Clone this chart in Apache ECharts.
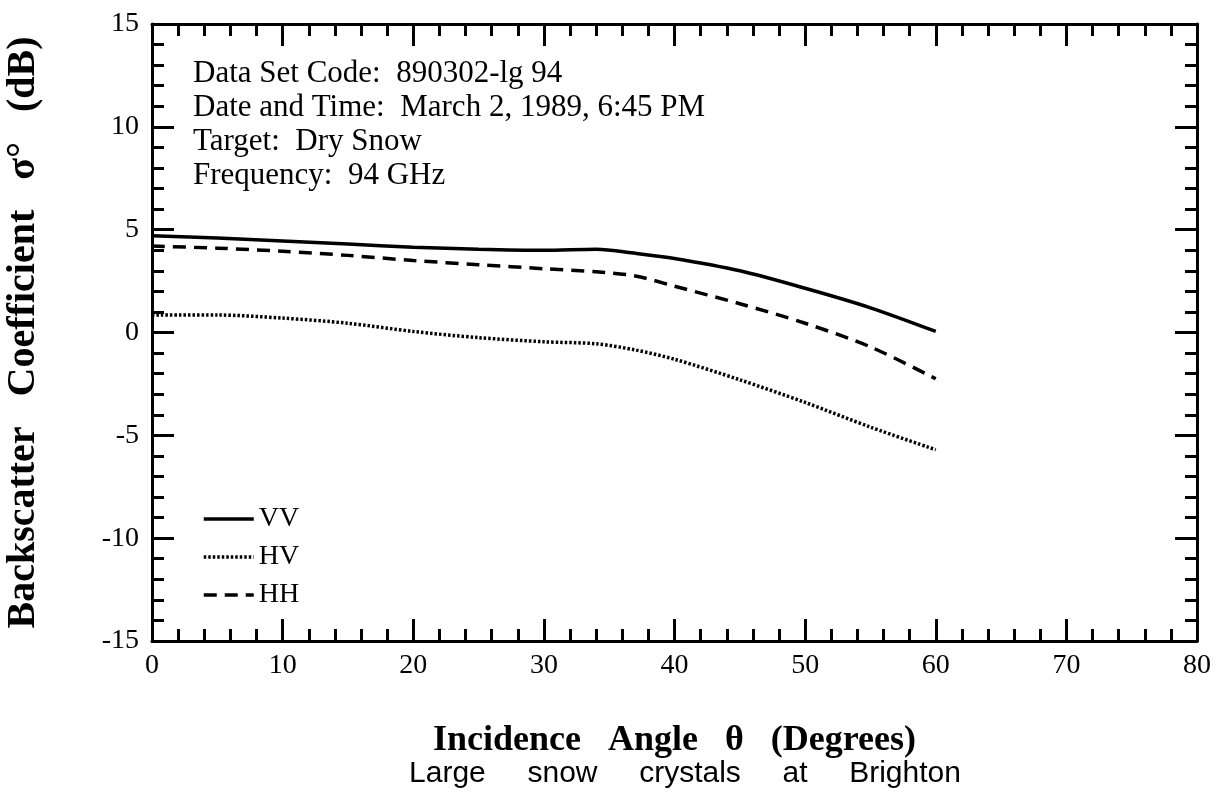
<!DOCTYPE html>
<html>
<head>
<meta charset="utf-8">
<script src="https://cdn.jsdelivr.net/npm/echarts@6/dist/echarts.min.js"></script>
<style>
html, body { margin: 0; padding: 0; background: #fff; }
#chart { width: 1222px; height: 803px; }
</style>
</head>
<body>
<div id="chart"></div>
<script>
// incidence angle (deg) and backscatter (dB)
const angles = [0, 5, 10, 15, 20, 25, 30, 34, 37, 40, 45, 50, 55, 60];
const vv = [4.7, 4.6, 4.45, 4.3, 4.15, 4.05, 4.0, 4.05, 3.85, 3.6, 3.0, 2.15, 1.2, 0.05];
const hv = [0.85, 0.85, 0.7, 0.45, 0.05, -0.25, -0.45, -0.55, -0.85, -1.3, -2.3, -3.4, -4.6, -5.7];
const hh = [4.2, 4.1, 3.95, 3.75, 3.5, 3.3, 3.1, 2.95, 2.75, 2.25, 1.4, 0.45, -0.7, -2.25];
const notes = [
    'Data Set Code:  890302-lg 94',
    'Date and Time:  March 2, 1989, 6:45 PM',
    'Target:  Dry Snow',
    'Frequency:  94 GHz'
];

const serif = '"Liberation Serif", "DejaVu Serif", serif';
const pair = (ys) => angles.map((a, i) => [a, ys[i]]);

const chart = echarts.init(document.getElementById('chart'));

const frameAxis = {
    axisLine: { show: true, onZero: false, lineStyle: { color: '#000', width: 3 } },
    axisTick: { show: true, inside: true, length: 22, lineStyle: { color: '#000', width: 3 } },
    minorTick: { show: true, splitNumber: 5, length: 12, lineStyle: { color: '#000', width: 3 } },
    splitLine: { show: false },
    minorSplitLine: { show: false },
};

const option = {
    animation: false,
    backgroundColor: '#fff',
    grid: { left: 152, right: 25, top: 24, bottom: 162, outerBoundsMode: 'none' },
    xAxis: [
        {
            ...frameAxis,
            type: 'value', min: 0, max: 80, interval: 10, position: 'bottom',
            axisLabel: { fontFamily: serif, fontSize: 28, color: '#000', margin: 11 },
            name: 'Incidence   Angle   θ   (Degrees)',
            nameLocation: 'middle', nameGap: 82,
            nameTextStyle: { fontFamily: serif, fontWeight: 'bold', fontSize: 36, color: '#000' },
        },
        {
            ...frameAxis,
            type: 'value', min: 0, max: 80, interval: 10, position: 'top',
            axisLabel: { show: false },
        },
    ],
    yAxis: [
        {
            ...frameAxis,
            type: 'value', min: -15, max: 15, interval: 5, position: 'left',
            axisLabel: { fontFamily: serif, fontSize: 28, color: '#000', margin: 13 },
            name: 'Backscatter   Coefficient   σ°   (dB)',
            nameLocation: 'middle', nameGap: 108,
            nameTextStyle: { fontFamily: serif, fontWeight: 'bold', fontSize: 40, color: '#000' },
        },
        {
            ...frameAxis,
            type: 'value', min: -15, max: 15, interval: 5, position: 'right',
            axisLabel: { show: false },
        },
    ],
    legend: {
        orient: 'vertical',
        left: 197, top: 500,
        itemWidth: 50, itemHeight: 14, itemGap: 10,
        lineStyle: { width: 3.5 },
        textStyle: { fontFamily: serif, fontSize: 28, color: '#000' },
        data: ['VV', 'HV', 'HH'],
    },
    graphic: [
        {
            type: 'text', left: 193, top: 57,
            style: {
                text: notes.join('\n'),
                font: '31px ' + serif,
                lineHeight: 34,
                fill: '#000',
            },
        },
        {
            type: 'text', x: 685, y: 774,
            style: {
                text: 'Large     snow     crystals     at     Brighton',
                font: '30px "Liberation Sans", Arial, sans-serif',
                align: 'center',
                verticalAlign: 'middle',
                fill: '#000',
            },
        },
    ],
    series: [
        {
            name: 'VV', type: 'line', smooth: 0.3, symbol: 'none',
            data: pair(vv),
            lineStyle: { color: '#000', width: 3.5, type: 'solid' },
            itemStyle: { color: '#000', opacity: 0 },
        },
        {
            name: 'HV', type: 'line', smooth: 0.3, symbol: 'none',
            data: pair(hv),
            lineStyle: { color: '#000', width: 3.5, type: [2.5, 2] },
            itemStyle: { color: '#000', opacity: 0 },
        },
        {
            name: 'HH', type: 'line', smooth: 0.3, symbol: 'none',
            data: pair(hh),
            lineStyle: { color: '#000', width: 3.5, type: [13, 8] },
            itemStyle: { color: '#000', opacity: 0 },
        },
    ],
};

chart.setOption(option);
</script>
</body>
</html>
